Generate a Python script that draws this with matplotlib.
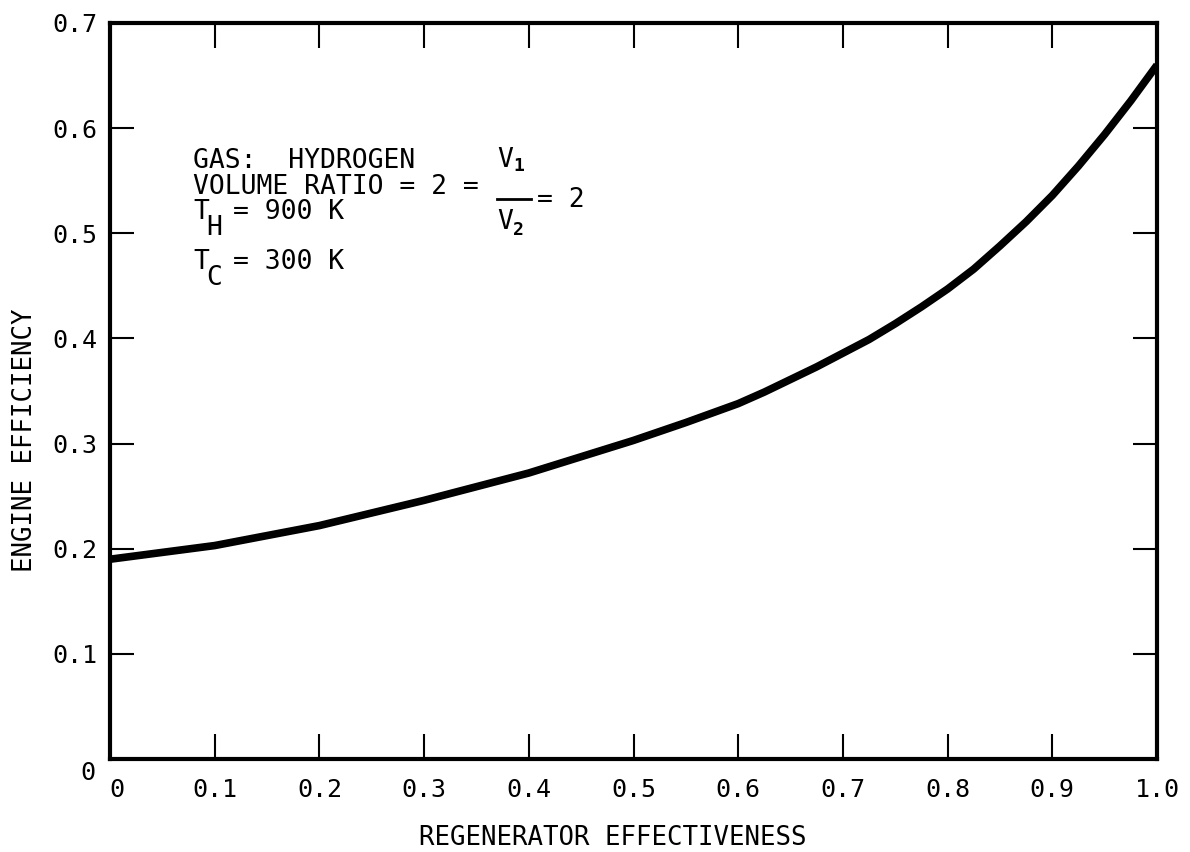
import numpy as np
import matplotlib
matplotlib.use("Agg")
import matplotlib.pyplot as plt
from matplotlib.transforms import ScaledTranslation

# curve
effectiveness = [0.0, 0.1, 0.2, 0.3, 0.4, 0.5, 0.55, 0.6, 0.625, 0.65, 0.675, 0.7, 0.725,
                 0.75, 0.775, 0.8, 0.825, 0.85, 0.875, 0.9, 0.925, 0.95, 0.975, 1.0]
efficiency = [0.19, 0.203, 0.222, 0.246, 0.272, 0.303, 0.320, 0.338, 0.349, 0.361, 0.373,
              0.386, 0.399, 0.414, 0.430, 0.447, 0.466, 0.488, 0.511, 0.536, 0.564,
              0.594, 0.626, 0.66]

x_ticks = [0, 0.1, 0.2, 0.3, 0.4, 0.5, 0.6, 0.7, 0.8, 0.9, 1.0]
x_labels = ["0", "0.1", "0.2", "0.3", "0.4", "0.5", "0.6", "0.7", "0.8", "0.9", "1.0"]
y_ticks = [0, 0.1, 0.2, 0.3, 0.4, 0.5, 0.6, 0.7]
y_labels = ["0", "0.1", "0.2", "0.3", "0.4", "0.5", "0.6", "0.7"]

plt.rcParams['font.family'] = ['DejaVu Sans Mono']

W, H = 1190, 852
fig = plt.figure(figsize=(W / 100, H / 100), dpi=100)
ax = fig.add_axes([110 / W, 1 - 759 / H, (1157 - 110) / W, (759 - 23) / H])

ax.plot(effectiveness, efficiency, color="black", lw=5.5,
        solid_capstyle="butt", solid_joinstyle="round")

ax.set_xlim(0, 1.0)
ax.set_ylim(0, 0.7)
ax.set_xticks(x_ticks)
ax.set_xticklabels(x_labels)
ax.set_yticks(y_ticks)
ax.set_yticklabels(y_labels)
ax.tick_params(axis="x", direction="in", length=18, width=1.5, top=True,
               labelsize=18, pad=14)
ax.tick_params(axis="y", direction="in", length=17, width=1.5, right=True,
               labelsize=18, pad=9)
for s in ax.spines.values():
    s.set_linewidth(3)

# the two zero labels sit a bit off in the original
lx = ax.get_xticklabels()[0]
lx.set_transform(lx.get_transform() + ScaledTranslation(0.07, 0, fig.dpi_scale_trans))
ly = ax.get_yticklabels()[0]
ly.set_transform(ly.get_transform() + ScaledTranslation(-0.02, -0.11, fig.dpi_scale_trans))

ax.set_xlabel("REGENERATOR EFFECTIVENESS", fontsize=18.5, va="center")
ax.xaxis.set_label_coords(0.48, -0.107)
ax.set_ylabel("ENGINE EFFICIENCY", fontsize=18.5, va="center")
ax.yaxis.set_label_coords(-0.081, 0.433)


def px(x, y):
    # figure pixel -> figure fraction
    return x / W, 1 - y / H


fs = 19
fig.text(*px(193, 161), "GAS:  HYDROGEN", fontsize=fs, va="center", ha="left")
fig.text(*px(193, 187), "VOLUME RATIO = 2 =", fontsize=fs, va="center", ha="left")
fig.text(*px(497, 160), "V", fontsize=fs, va="center", ha="left")
fig.text(*px(513, 166), "1", fontsize=13, va="center", ha="left", weight="bold")
fig.add_artist(plt.Line2D([497 / W, 531 / W], [1 - 199 / H, 1 - 199 / H],
                          color="black", lw=2))
fig.text(*px(497, 222), "V", fontsize=fs, va="center", ha="left")
fig.text(*px(513, 230), "2", fontsize=13, va="center", ha="left", weight="bold")
fig.text(*px(537, 200), "= 2", fontsize=fs, va="center", ha="left")
fig.text(*px(193, 212), "T", fontsize=fs, va="center", ha="left")
fig.text(*px(206, 228), "H", fontsize=fs, va="center", ha="left")
fig.text(*px(233, 212), "= 900 K", fontsize=fs, va="center", ha="left")
fig.text(*px(193, 262), "T", fontsize=fs, va="center", ha="left")
fig.text(*px(206, 278), "C", fontsize=fs, va="center", ha="left")
fig.text(*px(233, 262), "= 300 K", fontsize=fs, va="center", ha="left")

fig.savefig("out.png", dpi=100)
